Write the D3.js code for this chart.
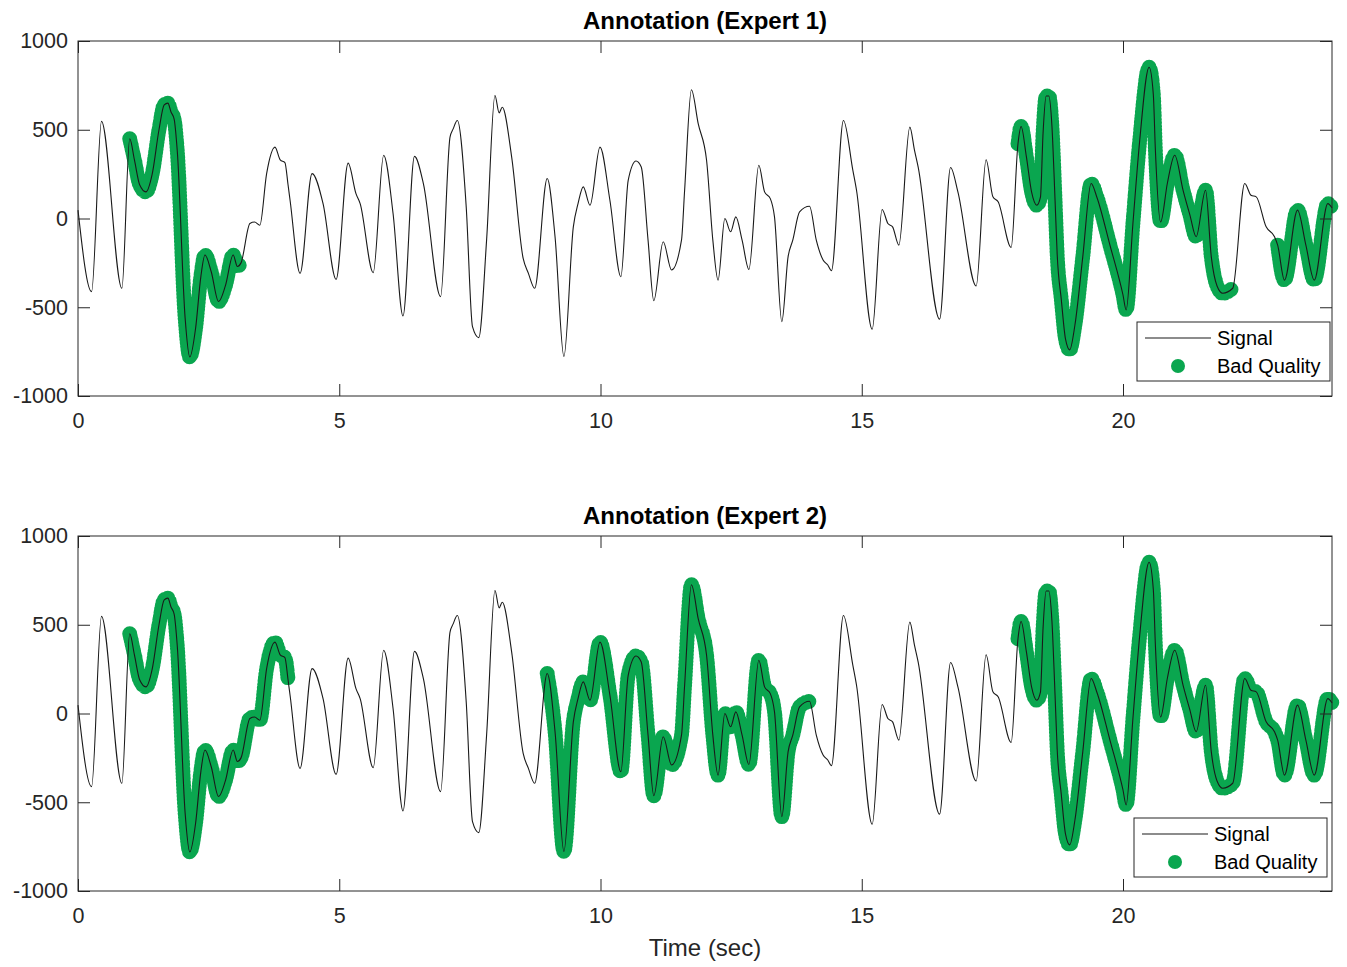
<!DOCTYPE html>
<html>
<head>
<meta charset="utf-8">
<script src="https://cdn.jsdelivr.net/npm/d3@7"></script>
<style>
  body { margin: 0; background: #fff; }
  svg { display: block; font-family: "Liberation Sans", Arial, Helvetica, sans-serif; }
</style>
</head>
<body>
<svg id="chart" width="1347" height="967"></svg>
<script>
// ---- Data ----
const times = [
  0.00, 0.26, 0.45, 0.84, 0.99, 1.08, 1.18, 1.30, 1.42, 1.55, 1.65, 1.72, 1.78, 1.84, 1.90,
  2.05, 2.14, 2.25, 2.35, 2.43, 2.55, 2.69, 2.82, 2.97, 3.05, 3.12, 3.29, 3.38, 3.48, 3.61,
  3.77, 3.87, 3.96, 4.02, 4.06, 4.25, 4.48, 4.69, 4.94, 5.17, 5.32, 5.40, 5.65, 5.85, 6.03,
  6.22, 6.44, 6.61, 6.94, 7.12, 7.18, 7.26, 7.43, 7.55, 7.67, 7.82, 7.98, 8.06, 8.12, 8.30,
  8.52, 8.62, 8.74, 8.98, 9.13, 9.30, 9.48, 9.57, 9.67, 9.80, 9.99, 10.18, 10.39, 10.53, 10.68,
  10.78, 10.91, 11.02, 11.20, 11.36, 11.55, 11.61, 11.74, 11.87, 12.03, 12.15, 12.25, 12.38, 12.49, 12.59,
  12.71, 12.84, 13.03, 13.14, 13.25, 13.33, 13.47, 13.59, 13.68, 13.81, 14.00, 14.13, 14.26, 14.35, 14.42,
  14.65, 14.83, 14.90, 15.20, 15.39, 15.50, 15.59, 15.71, 15.92, 16.01, 16.08, 16.49, 16.70, 16.84, 17.19,
  17.38, 17.51, 17.61, 17.86, 17.99, 18.05, 18.15, 18.25, 18.35, 18.42, 18.47, 18.53, 18.58, 18.64, 18.70,
  18.74, 18.82, 18.90, 18.98, 19.08, 19.23, 19.39, 19.50, 19.75, 20.00, 20.06, 20.19, 20.32, 20.50, 20.58,
  20.62, 20.72, 20.85, 20.99, 21.15, 21.28, 21.40, 21.58, 21.69, 21.80, 21.91, 22.10, 22.33, 22.45, 22.55,
  22.74, 22.90, 22.96, 23.09, 23.34, 23.50, 23.66, 23.92, 24.00
];
const values = [
  47, -412, 547, -393, 449, 330, 190, 150, 250, 500, 640, 650, 600, 560, 380,
  -560, -780, -620, -330, -206, -300, -468, -380, -206, -270, -250, -28, -20, -38, 253,
  402, 330, 315, 190, 100, -309, 253, 84, -343, 312, 140, 84, -305, 356, 28,
  -549, 350, 197, -440, 458, 505, 552, 65, -609, -671, -122, 693, 595, 627, 346,
  -225, -309, -393, 225, -103, -777, -47, 84, 178, 75, 402, 103, -328, 215, 324,
  290, -122, -463, -131, -290, -122, 159, 725, 534, 328, -122, -347, 0, -75, 9,
  -122, -287, 300, 150, 112, 9, -581, -216, -122, 37, 69, -122, -234, -262, -294,
  552, 271, 159, -624, 51, -28, -47, -150, 515, 384, 290, -567, 287, 150, -380,
  331, 122, 94, -163, 421, 518, 350, 150, 75, 120, 480, 690, 690, 520, 100,
  -200, -459, -680, -740, -600, -216, 197, 120, -150, -431, -515, -28, 440, 852, 700,
  384, -20, 200, 356, 159, 20, -103, 159, -216, -380, -421, -393, 197, 131, 122,
  -47, -103, -150, -347, 47, -150, -347, 84, 60
];
const expert1Bad = [[0.99, 3.12], [17.99, 22.10], [22.96, 24.00]];
const expert2Bad = [[0.99, 4.02], [8.98, 14.00], [17.99, 24.00]];
const panelTitles = ["Annotation (Expert 1)", "Annotation (Expert 2)"];
const xTicks = [0, 5, 10, 15, 20];
const yTicks = [-1000, -500, 0, 500, 1000];
const legendLabels = ["Signal", "Bad Quality"];
const xLabel = "Time (sec)";

// ---- Layout ----
const GREEN = "#0aa64f";
const AXC = "#262626";
const FONT = "'Liberation Sans', Arial, Helvetica, sans-serif";
const left = 78, right = 1332;
const panels = [
  { top: 41, bottom: 396, bad: expert1Bad, title: panelTitles[0], legend: { x: 1137, y: 322 } },
  { top: 536, bottom: 891, bad: expert2Bad, title: panelTitles[1], legend: { x: 1134, y: 818 } }
];
const pts = times.map((t, i) => ({ t, v: values[i] }));
const svg = d3.select("#chart");
const x = d3.scaleLinear().domain([0, 24]).range([left, right]);
const fmt = d => String(d);

panels.forEach(p => {
  const y = d3.scaleLinear().domain([-1000, 1000]).range([p.bottom, p.top]);
  const g = svg.append("g");
  const line = d3.line().x(d => x(d.t)).y(d => y(d.v)).curve(d3.curveMonotoneX);

  // bad-quality green markers band
  p.bad.forEach(([a, b]) => {
    const seg = pts.filter(d => d.t >= a - 1e-9 && d.t <= b + 1e-9);
    g.append("path").datum(seg).attr("d", line)
      .attr("fill", "none").attr("stroke", GREEN).attr("stroke-width", 15)
      .attr("stroke-linecap", "round").attr("stroke-linejoin", "round")
      .attr("stroke-dasharray", "0 3.5");
  });
  // signal
  g.append("path").datum(pts).attr("d", line)
    .attr("fill", "none").attr("stroke", "#1a1a1a").attr("stroke-width", 1.1);

  // axes (ticks inside, all four sides)
  const styleAxis = sel => {
    sel.select(".domain").remove();
    sel.selectAll(".tick line").attr("stroke", AXC).attr("stroke-width", 1);
    sel.selectAll(".tick text").attr("fill", AXC).attr("font-size", 21.5)
      .attr("font-family", FONT);
  };
  g.append("g").attr("transform", `translate(0,${p.bottom})`)
    .call(d3.axisBottom(x).tickValues(xTicks).tickSize(-12).tickPadding(17).tickFormat(fmt))
    .call(styleAxis);
  g.append("g").attr("transform", `translate(0,${p.top})`)
    .call(d3.axisTop(x).tickValues(xTicks).tickSize(-12).tickFormat(""))
    .call(styleAxis);
  g.append("g").attr("transform", `translate(${left},0)`)
    .call(d3.axisLeft(y).tickValues(yTicks).tickSize(-12).tickPadding(10).tickFormat(fmt))
    .call(styleAxis);
  g.append("g").attr("transform", `translate(${right},0)`)
    .call(d3.axisRight(y).tickValues(yTicks).tickSize(-12).tickFormat(""))
    .call(styleAxis);
  g.append("rect").attr("x", left).attr("y", p.top)
    .attr("width", right - left).attr("height", p.bottom - p.top)
    .attr("fill", "none").attr("stroke", AXC).attr("stroke-width", 1);

  // title
  svg.append("text").attr("x", (left + right) / 2).attr("y", p.top - 12)
    .attr("text-anchor", "middle").attr("font-weight", "bold").attr("font-size", 24)
    .attr("fill", "#000").text(p.title);

  // legend
  const L = svg.append("g").attr("transform", `translate(${p.legend.x},${p.legend.y})`);
  L.append("rect").attr("width", 193).attr("height", 59)
    .attr("fill", "#fff").attr("stroke", AXC).attr("stroke-width", 1);
  L.append("line").attr("x1", 8).attr("x2", 74).attr("y1", 16).attr("y2", 16)
    .attr("stroke", "#1a1a1a").attr("stroke-width", 1.1);
  L.append("circle").attr("cx", 41).attr("cy", 44).attr("r", 7).attr("fill", GREEN);
  L.append("text").attr("x", 80).attr("y", 23).attr("font-size", 20).attr("fill", "#000").text(legendLabels[0]);
  L.append("text").attr("x", 80).attr("y", 51).attr("font-size", 20).attr("fill", "#000").text(legendLabels[1]);
});

svg.append("text").attr("x", (left + right) / 2).attr("y", 956)
  .attr("text-anchor", "middle").attr("font-size", 24).attr("fill", AXC).text(xLabel);
</script>
</body>
</html>
